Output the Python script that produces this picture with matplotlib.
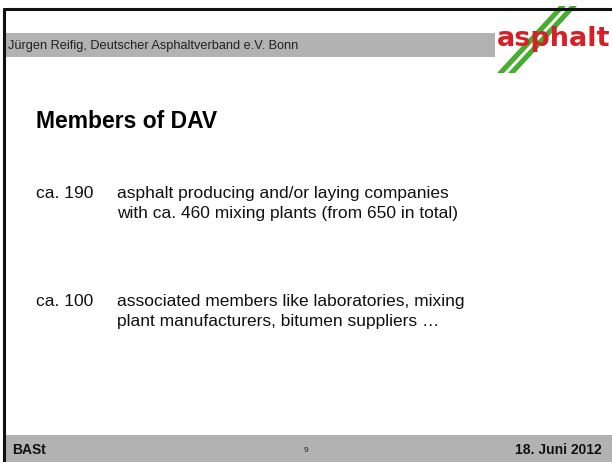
import matplotlib.pyplot as plt
from matplotlib.patches import Rectangle, Polygon

# --- Slide content ---
HEADER = 'Jürgen Reifig, Deutscher Asphaltverband e.V. Bonn'
TITLE = 'Members of DAV'
COUNTS = ['ca. 190', 'ca. 100']
DESCRIPTIONS = [
    'asphalt producing and/or laying companies\nwith ca. 460 mixing plants (from 650 in total)',
    'associated members like laboratories, mixing\nplant manufacturers, bitumen suppliers …',
]
FOOTER_LEFT = 'BASt'
PAGE = '9'
FOOTER_RIGHT = '18. Juni 2012'

W, H = 612, 462
GREY = '#b2b2b2'
RED = '#d42027'
GREEN = '#46ad2f'

fig = plt.figure(figsize=(W / 100, H / 100), dpi=100)
ax = fig.add_axes([0, 0, 1, 1])
ax.set_xlim(0, W)
ax.set_ylim(H, 0)
ax.axis('off')

# header and footer bands
ax.add_patch(Rectangle((4, 33), 491, 24, color=GREY, lw=0))
ax.add_patch(Rectangle((4, 435), W - 4, H - 435, color=GREY, lw=0))

# frame: top and left lines
ax.plot([3, W], [9, 9], color='#111111', lw=2.2, solid_capstyle='butt')
ax.plot([4, 4], [8, H], color='#111111', lw=2.2, solid_capstyle='butt')

ax.text(8, 46, HEADER, fontsize=9.2, family='Liberation Sans',
        color='#222222', va='center', ha='left')

# logo: two green stripes + red word
for off in (0, 11):
    ax.add_patch(Polygon([(497 + off, 73), (504 + off, 73), (566 + off, 6), (559 + off, 6)],
                         closed=True, color=GREEN, lw=0))
ax.text(497, 39, 'asphalt', fontsize=19.5, fontweight='heavy', family='DejaVu Sans',
        color=RED, va='center', ha='left')

ax.text(36, 122, TITLE, fontsize=16.5, fontweight='bold', family='Liberation Sans',
        color='black', va='center', ha='left')

for i, (cnt, desc) in enumerate(zip(COUNTS, DESCRIPTIONS)):
    y = 186 + i * 108
    ax.text(36, y, cnt, fontsize=12.5, family='Liberation Sans', color='#111111',
            va='top', ha='left')
    ax.text(117, y, desc, fontsize=12.5, family='Liberation Sans', color='#111111',
            va='top', ha='left', linespacing=1.45)

ax.text(12, 450, FOOTER_LEFT, fontsize=10, fontweight='bold', family='Liberation Sans',
        color='#111111', va='center', ha='left')
ax.text(306, 451, PAGE, fontsize=6, family='Liberation Sans', color='#222222',
        va='center', ha='center')
ax.text(602, 450, FOOTER_RIGHT, fontsize=10, fontweight='bold', family='Liberation Sans',
        color='#111111', va='center', ha='right')

fig.savefig('out.png', dpi=100)
